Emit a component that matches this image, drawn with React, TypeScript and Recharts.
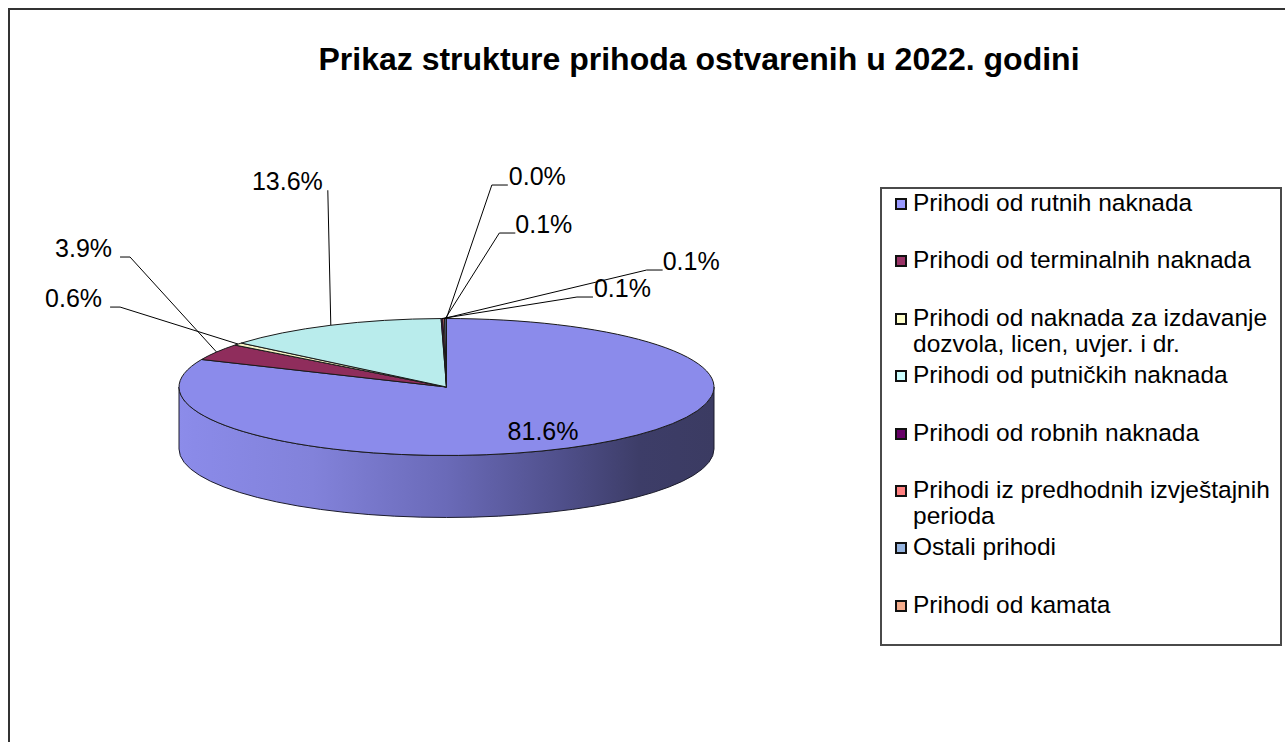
import React from 'react';
import { PieChart, Pie, Cell, Legend } from 'recharts';

// ---------- data ----------
const categories = [
  'Prihodi od rutnih naknada',
  'Prihodi od terminalnih naknada',
  'Prihodi od naknada za izdavanje dozvola, licen, uvjer. i dr.',
  'Prihodi od putničkih naknada',
  'Prihodi od robnih naknada',
  'Prihodi iz predhodnih izvještajnih perioda',
  'Ostali prihodi',
  'Prihodi od kamata',
];
const shares = [81.6, 3.9, 0.6, 13.6, 0.1, 0.1, 0.1, 0.02];
const legendColors = ['#9999FF', '#993366', '#FFFFCC', '#CCFFFF', '#660066', '#FF8080', '#96B5E0', '#F4AC8C'];
const faceColors = ['#8B8BEB', '#8F2D5C', '#F4F1C4', '#B9ECEC', '#5A0A5A', '#E87878', '#8AAAD6', '#EDA688'];
const title = 'Prikaz strukture prihoda ostvarenih u 2022. godini';

// ---------- layout / style ----------
const W = 1277;
const H = 734;
const CX = 438.5;
const CY = 379;
const RX = 267.5;
const TILT = 0.256;
const DEPTH = 62;
const FONT = '"Liberation Sans", Arial, sans-serif';
const LABEL_SIZE = 25;
const labelLayout: any[] = [
  { inside: true, k: 0.66, dy: 15 },
  { dx: -86.5, dy: -95, tail: -10, gap: -8 },
  { dx: -118, dy: -37, tail: -10, gap: -8 },
  { dx: -3, dy: -135, tail: 0, gap: -5 },
  { dx: 135, dy: -21.5, tail: 16, gap: 1 },
  { dx: 203, dy: -48.5, tail: 16, gap: 0 },
  { dx: 54, dy: -85.5, tail: 16, gap: 0 },
  { dx: 45.5, dy: -133.5, tail: 16, gap: 1 },
];

const data = categories.map((name, i) => ({ name, value: shares[i] }));

const RAD = Math.PI / 180;

const renderSlice = (props: any) => {
  const { cx, cy, outerRadius, startAngle, endAngle } = props;
  const name = props.name ?? props.payload?.name;
  const idx = categories.indexOf(name);
  const face = faceColors[idx >= 0 ? idx : 0];
  const rx = outerRadius;
  const ry = outerRadius * TILT;
  const P = (a: number) => [cx + rx * Math.cos(a * RAD), cy - ry * Math.sin(a * RAD)];
  const s = Math.max(startAngle, endAngle);
  const e = Math.min(startAngle, endAngle);
  const [sx, sy] = P(s);
  const [ex, ey] = P(e);
  const large = s - e > 180 ? 1 : 0;
  const top = `M${cx},${cy} L${sx},${sy} A${rx},${ry} 0 ${large} 1 ${ex},${ey} Z`;
  const sides: string[] = [];
  for (const k of [-1, 0, 1]) {
    const lo = Math.max(e, -180 + 360 * k);
    const hi = Math.min(s, 360 * k);
    if (hi - lo > 0.01) {
      const [hx, hy] = P(hi);
      const [lx, ly] = P(lo);
      sides.push(
        `M${hx},${hy} A${rx},${ry} 0 0 1 ${lx},${ly} L${lx},${ly + DEPTH} A${rx},${ry} 0 0 0 ${hx},${hy + DEPTH} Z`
      );
    }
  }
  const gid = `side-grad-${idx}`;
  return (
    <g>
      <defs>
        <linearGradient id={gid} gradientUnits="userSpaceOnUse" x1={cx - rx} y1={0} x2={cx + rx} y2={0}>
          <stop offset="0" stopColor="#8C8CEA" />
          <stop offset="0.03" stopColor="#8A8AE8" />
          <stop offset="0.25" stopColor="#8282DA" />
          <stop offset="0.5" stopColor="#6A6AB8" />
          <stop offset="0.71" stopColor="#50508C" />
          <stop offset="0.86" stopColor="#3D3D68" />
          <stop offset="1" stopColor="#3B3B62" />
        </linearGradient>
      </defs>
      {sides.map((d, i) => (
        <path key={i} d={d} fill={`url(#${gid})`} stroke="#1c1c2c" strokeWidth={1} strokeLinejoin="round" />
      ))}
      <path d={top} fill={face} stroke="#1a1a1a" strokeWidth={1} strokeLinejoin="round" />
    </g>
  );
};

const renderLabel = (props: any) => {
  const { cx, cy, midAngle, outerRadius, index, percent } = props;
  const rx = outerRadius;
  const ry = outerRadius * TILT;
  const a = midAngle * RAD;
  const text = `${(percent * 100).toFixed(1)}%`;
  const L = labelLayout[index];
  if (!L) return null;
  if (L.inside) {
    return (
      <text
        x={cx + rx * L.k * Math.cos(a)}
        y={cy - ry * L.k * Math.sin(a) + L.dy}
        textAnchor="middle"
        fontFamily={FONT}
        fontSize={LABEL_SIZE}
        fill="#000"
      >
        {text}
      </text>
    );
  }
  const ax = cx + rx * Math.cos(a);
  const ay = cy - ry * Math.sin(a);
  const ex = ax + L.dx;
  const ey = ay + L.dy;
  const tx = ex + L.tail;
  const anchor = L.tail + L.gap < 0 ? 'end' : 'start';
  return (
    <g>
      <polyline points={`${ax},${ay} ${ex},${ey} ${tx},${ey}`} fill="none" stroke="#000" strokeWidth={1} />
      <text x={tx + L.gap} y={ey} textAnchor={anchor} fontFamily={FONT} fontSize={LABEL_SIZE} fill="#000">
        {text}
      </text>
    </g>
  );
};

const renderLegend = (props: any) => {
  const payload = [...(props.payload || [])].sort(
    (a: any, b: any) => categories.indexOf(a.value) - categories.indexOf(b.value)
  );
  return (
    <div
      style={{
        position: 'relative',
        width: 398,
        height: 455,
        border: '2px solid #4a4a4a',
        background: '#fff',
        fontFamily: FONT,
        fontSize: 24.5,
        color: '#000',
      }}
    >
      {payload.map((p: any, i: number) => (
        <div key={i} style={{ position: 'absolute', left: 13, top: 1 + i * 57.4, width: 380 }}>
          <span
            style={{
              position: 'absolute',
              left: 0,
              top: 8,
              width: 12,
              height: 12,
              boxSizing: 'border-box',
              border: '2px solid #111',
              background: p.color,
            }}
          />
          <div style={{ position: 'absolute', left: 18, top: 0, width: 364, lineHeight: '26px', whiteSpace: 'normal' }}>
            {p.value}
          </div>
        </div>
      ))}
    </div>
  );
};

export default function App() {
  return (
    <div
      style={{
        position: 'fixed',
        left: 8,
        top: 8,
        width: W,
        height: H,
        overflow: 'hidden',
        background: '#fff',
      }}
    >
      <div
        style={{
          position: 'absolute',
          left: 0,
          top: 0,
          width: 1400,
          height: 1000,
          border: '2px solid #333',
          boxSizing: 'border-box',
        }}
      />
      <div
        style={{
          position: 'absolute',
          left: 691 - 600,
          top: 33,
          width: 1200,
          textAlign: 'center',
          fontFamily: FONT,
          fontWeight: 'bold',
          fontSize: 32,
          lineHeight: '36px',
          color: '#000',
          whiteSpace: 'nowrap',
        }}
      >
        {title}
      </div>
      <div style={{ position: 'absolute', left: 0, top: 0 }}>
        <PieChart width={W} height={H} margin={{ top: 0, right: 0, bottom: 0, left: 0 }}>
          <Pie
            data={data}
            dataKey="value"
            nameKey="name"
            cx={CX}
            cy={CY}
            outerRadius={RX}
            startAngle={90}
            endAngle={-270}
            stroke="#1a1a1a"
            isAnimationActive={false}
            label={renderLabel}
            labelLine={false}
            shape={renderSlice}
            inactiveShape={renderSlice}
            activeShape={renderSlice}
          >
            {data.map((d, i) => (
              <Cell key={d.name} fill={legendColors[i]} />
            ))}
          </Pie>
          <Legend
            content={renderLegend}
            layout="vertical"
            align="right"
            verticalAlign="top"
            itemSorter={null as any}
            wrapperStyle={{ left: 872, top: 179, right: 'auto', bottom: 'auto', width: 402 }}
          />
        </PieChart>
      </div>
    </div>
  );
}
